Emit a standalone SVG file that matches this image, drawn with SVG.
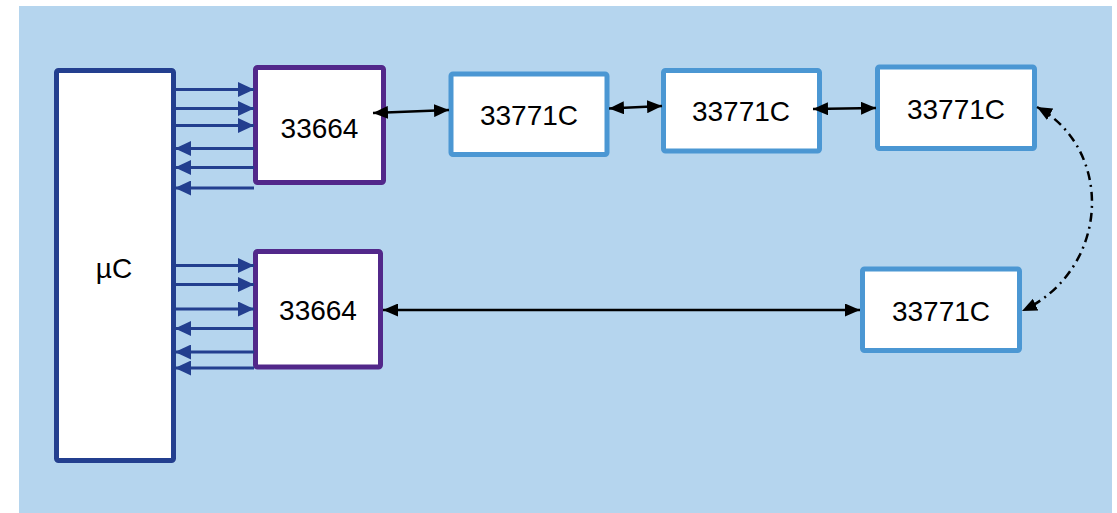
<svg xmlns="http://www.w3.org/2000/svg" width="1117" height="513" viewBox="0 0 1117 513">
<style>
.bg{fill:#b5d5ee}
.box{fill:#ffffff;stroke-width:5;stroke-linejoin:round}
.uc{stroke:#233f8f}
.drv{stroke:#52288a}
.cell{stroke:#4b97d3}
.lbl{font-family:"Liberation Sans",Arial,sans-serif;font-size:28px;fill:#000;text-anchor:middle}
.bl{stroke:#233f8f;stroke-width:3;fill:none;marker-end:url(#ab)}
.bk{stroke:#000;stroke-width:2.5;fill:none;marker-start:url(#ak);marker-end:url(#ak)}
.dd{stroke:#000;stroke-width:2.5;fill:none;stroke-dasharray:9 5 2 5;marker-start:url(#ak);marker-end:url(#ak)}
</style>
<defs>
<marker id="ab" markerUnits="userSpaceOnUse" markerWidth="16" markerHeight="15" refX="16" refY="7.5" orient="auto-start-reverse">
<path d="M0,0 L16,7.5 L0,15 z" fill="#233f8f"/>
</marker>
<marker id="ak" markerUnits="userSpaceOnUse" markerWidth="15" markerHeight="13" refX="15" refY="6.5" orient="auto-start-reverse">
<path d="M0,0 L15,6.5 L0,13 z" fill="#000"/>
</marker>
</defs>
<rect class="bg" x="19" y="6" width="1093" height="507"/>
<g id="uc">
<rect class="box uc" x="56.5" y="70.5" width="117" height="390" rx="2"/>
<text class="lbl" x="114" y="278">µC</text>
</g>
<g id="drv1">
<rect class="box drv" x="255.5" y="67.5" width="128" height="115" rx="2"/>
<text class="lbl" x="319.5" y="138">33664</text>
</g>
<g id="drv2">
<rect class="box drv" x="255.5" y="251.5" width="125" height="115.5" rx="2"/>
<text class="lbl" x="318" y="320">33664</text>
</g>
<g id="cell1">
<rect class="box cell" x="451" y="74" width="156" height="80.5" rx="2"/>
<text class="lbl" x="529" y="125">33771C</text>
</g>
<g id="cell2">
<rect class="box cell" x="663.5" y="70.5" width="156" height="80.5" rx="2"/>
<text class="lbl" x="741" y="121">33771C</text>
</g>
<g id="cell3">
<rect class="box cell" x="877.5" y="67" width="157" height="81.5" rx="2"/>
<text class="lbl" x="956" y="118.5">33771C</text>
</g>
<g id="cell4">
<rect class="box cell" x="862.5" y="269" width="157" height="81.5" rx="2"/>
<text class="lbl" x="941" y="320.5">33771C</text>
</g>
<g id="connectors">
<line class="bl" x1="176" y1="89.5" x2="254" y2="89.5"/>
<line class="bl" x1="176" y1="108.5" x2="254" y2="108.5"/>
<line class="bl" x1="176" y1="125.5" x2="254" y2="125.5"/>
<line class="bl" x1="254" y1="148.5" x2="175" y2="148.5"/>
<line class="bl" x1="254" y1="167.5" x2="175" y2="167.5"/>
<line class="bl" x1="254" y1="188" x2="175" y2="188"/>
<line class="bl" x1="176" y1="265.5" x2="254" y2="265.5"/>
<line class="bl" x1="176" y1="284.5" x2="254" y2="284.5"/>
<line class="bl" x1="176" y1="309" x2="254" y2="309"/>
<line class="bl" x1="254" y1="328.5" x2="175" y2="328.5"/>
<line class="bl" x1="254" y1="352" x2="175" y2="352"/>
<line class="bl" x1="254" y1="368" x2="175" y2="368"/>
<line class="bk" x1="373" y1="113" x2="449" y2="110"/>
<line class="bk" x1="609" y1="108.5" x2="662" y2="106"/>
<line class="bk" x1="813" y1="109" x2="876" y2="108"/>
<line class="bk" x1="383" y1="310" x2="860" y2="310"/>
<path class="dd" d="M1037,107 C1115,150 1110,270 1022,311"/>
</g>
</svg>
